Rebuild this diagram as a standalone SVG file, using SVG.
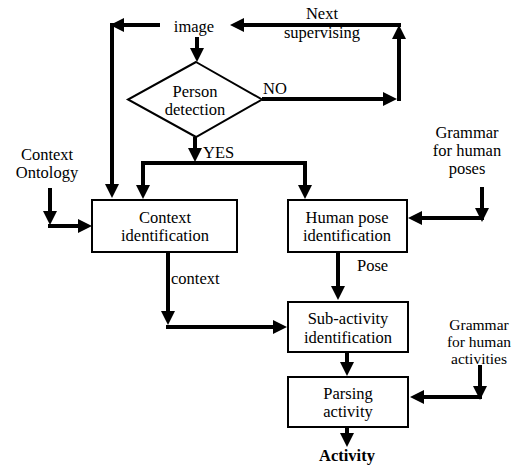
<svg xmlns="http://www.w3.org/2000/svg" width="518" height="465" viewBox="0 0 518 465" font-family="'Liberation Serif', 'Times New Roman', serif">
<defs>
<marker id="ah" viewBox="0 0 14 14" markerWidth="14" markerHeight="14" markerUnits="userSpaceOnUse" refX="6" refY="7" orient="auto-start-reverse">
<path d="M0,0 L14,7 L0,14 Z" fill="#000"/>
</marker>
<style>
text{font-family:'Liberation Serif','Times New Roman',serif;font-size:16.5px;fill:#000;text-anchor:middle}
.st{text-anchor:start}
.b{font-weight:bold}
.sm{font-size:15.5px}
.box{fill:#fff;stroke:#000;stroke-width:2}
.c{fill:none;stroke:#000;stroke-width:4;stroke-linejoin:miter}
.a{marker-end:url(#ah)}
.a2{marker-start:url(#ah);marker-end:url(#ah)}
</style>
</defs>
<rect width="518" height="465" fill="#fff"/>
<g id="connectors">
<path class="c a" d="M160,25 H118"/>
<path class="c a" d="M112,23 V190"/>
<path class="c a" d="M197,37 V54"/>
<path class="c a" d="M262,99 H389"/>
<path class="c a" d="M399,101 V33"/>
<path class="c a" d="M401,25 H238"/>
<path class="c a" d="M195,137 V154"/>
<path class="c a2" d="M143,191 V163 H305 V191"/>
<path class="c a" d="M50,188 V217"/>
<path class="c a" d="M48,226 H84"/>
<path class="c a" d="M482,187 V214"/>
<path class="c a" d="M484,218 H416"/>
<path class="c a" d="M168,252 V317"/>
<path class="c a" d="M166,327 H279"/>
<path class="c a" d="M338,252 V292"/>
<path class="c a" d="M347,352 V368"/>
<path class="c a" d="M480,365 V392"/>
<path class="c a" d="M482,397 H418"/>
<path class="c a" d="M347,427 V439"/>
</g>
<g id="image"><text x="194" y="32">image</text></g>
<g id="next"><text x="322" y="19">Next</text><text x="322" y="38">supervising</text></g>
<g id="person-detection">
<polygon class="box" points="196,62 262,99.5 196,137 128,99.5"/>
<text x="195" y="97">Person</text><text x="195" y="115">detection</text>
</g>
<g id="label-no"><text class="st" x="263" y="94">NO</text></g>
<g id="label-yes"><text class="st" x="203" y="158">YES</text></g>
<g id="context-ontology"><text x="47" y="160">Context</text><text x="47" y="178">Ontology</text></g>
<g id="context-identification">
<rect class="box" x="92" y="200" width="145" height="52"/>
<text x="165" y="223">Context</text><text x="165" y="241">identification</text>
</g>
<g id="human-pose-identification">
<rect class="box" x="288" y="200" width="119" height="52"/>
<text x="347" y="223">Human pose</text><text x="347" y="241">identification</text>
</g>
<g id="grammar-poses"><text x="467" y="138">Grammar</text><text x="467" y="156">for human</text><text x="467" y="174">poses</text></g>
<g id="label-context"><text class="st" x="171" y="284">context</text></g>
<g id="label-pose"><text class="st" x="357" y="271">Pose</text></g>
<g id="sub-activity-identification">
<rect class="box" x="288" y="302" width="120" height="50"/>
<text x="348" y="324">Sub-activity</text><text x="348" y="343">identification</text>
</g>
<g id="grammar-activities"><text class="sm" x="479" y="330">Grammar</text><text class="sm" x="479" y="347">for human</text><text class="sm" x="479" y="364">activities</text></g>
<g id="parsing-activity">
<rect class="box" x="288" y="377" width="120" height="50"/>
<text x="348" y="399">Parsing</text><text x="348" y="417">activity</text>
</g>
<g id="activity"><text class="b" x="347" y="461">Activity</text></g>
</svg>
